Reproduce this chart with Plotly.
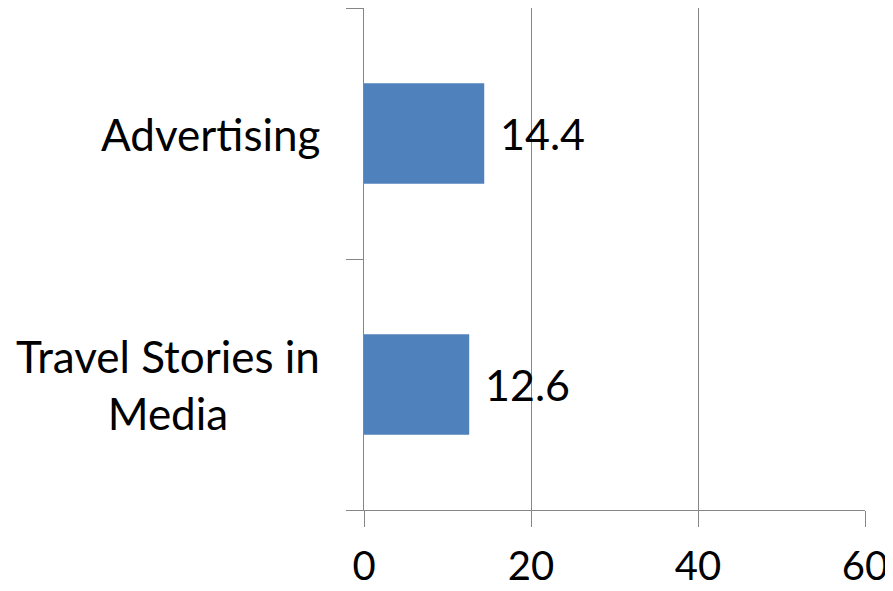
import plotly.graph_objects as go

categories = ["Travel Stories in<br>Media", "Advertising"]
values = [12.6, 14.4]
x_ticks = [0, 20, 40, 60]

FONT = "Lato"
GRAY = "#868686"

fig = go.Figure()
fig.add_trace(go.Bar(
    x=values, y=categories, orientation="h",
    marker=dict(color="#4F81BD", line=dict(width=0)),
    width=0.4, hoverinfo="skip",
))

for c, v in zip(categories, values):
    fig.add_annotation(x=v, y=c, text=f"{v:.1f}", showarrow=False,
                       xanchor="left", xshift=14,
                       font=dict(family=FONT, size=43, color="black"))
    fig.add_annotation(x=0, xref="paper", y=c, text=c, showarrow=False,
                       xanchor="right", xshift=-42, align="center",
                       font=dict(family=FONT, size=44, color="black"))

fig.update_layout(
    width=885, height=583,
    margin=dict(l=356, r=28, t=0, b=81),
    paper_bgcolor="white", plot_bgcolor="white",
    showlegend=False,
    xaxis=dict(range=[0, 60], tickvals=x_ticks, showgrid=True, gridcolor=GRAY,
               gridwidth=1, zeroline=False, showline=True, linecolor=GRAY,
               linewidth=1, ticks="outside", ticklen=16, tickcolor=GRAY,
               ticklabelstandoff=5, automargin=False,
               tickfont=dict(family=FONT, size=40, color="black")),
    yaxis=dict(type="category", categoryorder="array", categoryarray=categories,
               range=[-0.5, 1.5], tickson="boundaries", ticks="outside",
               ticklen=17, tickcolor=GRAY, showline=True, linecolor=GRAY,
               linewidth=1, showgrid=False, showticklabels=False,
               automargin=False),
)

fig.write_html("out.html")
